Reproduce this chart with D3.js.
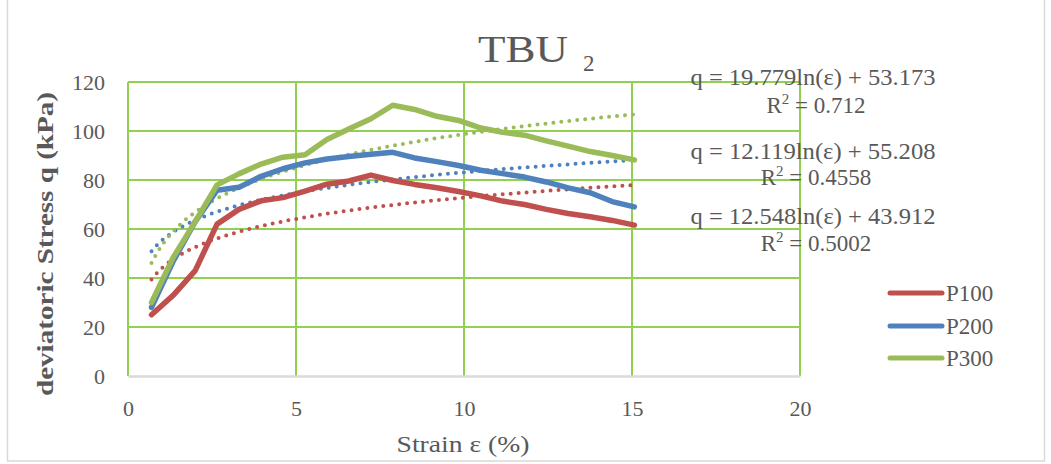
<!DOCTYPE html>
<html>
<head>
<meta charset="utf-8">
<script src="https://cdn.jsdelivr.net/npm/d3@7/dist/d3.min.js"></script>
<style>
  html, body { margin: 0; padding: 0; background: #fff; }
  svg { display: block; }
  text { font-family: "Liberation Serif", "DejaVu Serif", serif; }
</style>
</head>
<body>
<svg id="chart" width="1051" height="464"></svg>
<script>
// Strain (%) at each reading
const strain = [0.7, 1.35, 2.0, 2.65, 3.3, 3.96, 4.61, 5.27, 5.92, 6.57, 7.23, 7.88,
                8.53, 9.19, 9.84, 10.5, 11.15, 11.8, 12.45, 13.1, 13.76, 14.41, 15.07];
// Deviatoric stress q (kPa) per confining pressure
const p100 = [25, 33, 43, 62, 68, 71.5, 72.8, 75.5, 78.3, 79.6, 82, 79.8,
              78.2, 76.8, 75.3, 73.5, 71.4, 70, 68, 66.3, 65, 63.5, 61.6];
const p200 = [28, 47, 63, 75.8, 77, 81.5, 84.6, 87, 88.6, 89.6, 90.5, 91.3,
              89, 87.5, 85.9, 84, 82.6, 81.2, 79.2, 76.8, 74.8, 71.2, 69];
const p300 = [30, 48.5, 63, 78, 82.5, 86.5, 89.3, 90.3, 96.5, 100.8, 105, 110.5,
              108.8, 106, 104.3, 101.2, 99.5, 98.3, 96, 93.8, 91.6, 90, 88.2];

const seriesNames = ["P100", "P200", "P300"];
const seriesColors = ["#C0504D", "#4F81BD", "#9BBB59"];

// Logarithmic trend lines q = a ln(ε) + b
const trendA = [12.548, 12.119, 19.779];
const trendB = [43.912, 55.208, 53.173];
const trendR2 = ["0.5002", "0.4558", "0.712"];

const xTicks = [0, 5, 10, 15, 20];
const yTicks = [0, 20, 40, 60, 80, 100, 120];

const svg = d3.select("#chart");
const plotL = 128, plotR = 800, plotT = 82, plotB = 376;
const x = d3.scaleLinear().domain([0, 20]).range([plotL, plotR]);
const y = d3.scaleLinear().domain([0, 120]).range([plotB, plotT]);
const textColor = "#595959";

// outer frame
svg.append("rect").attr("x", 7.5).attr("y", -2).attr("width", 1037).attr("height", 463)
  .attr("fill", "none").attr("stroke", "#d9d9d9").attr("stroke-width", 1.5);

// gridlines
const grid = svg.append("g").attr("stroke", "#92D050").attr("stroke-width", 2);
grid.selectAll("line.h").data(yTicks.filter(d => d > 0)).join("line").attr("class", "h")
  .attr("x1", plotL).attr("x2", plotR).attr("y1", d => y(d)).attr("y2", d => y(d));
grid.selectAll("line.v").data(xTicks).join("line").attr("class", "v")
  .attr("x1", d => x(d)).attr("x2", d => x(d)).attr("y1", plotT).attr("y2", plotB);

// x axis
const xAxis = svg.append("g").attr("transform", `translate(0,${plotB})`)
  .call(d3.axisBottom(x).tickValues(xTicks).tickSize(0).tickPadding(24));
xAxis.select(".domain").attr("stroke", "#d9d9d9").attr("stroke-width", 2.5);
xAxis.selectAll("text").attr("font-size", 22).attr("fill", textColor)
  .attr("font-family", "Liberation Serif, serif");

// y axis
const yAxis = svg.append("g").attr("transform", `translate(${plotL},0)`)
  .call(d3.axisLeft(y).tickValues(yTicks).tickSize(0).tickPadding(23));
yAxis.select(".domain").remove();
yAxis.selectAll("text").attr("font-size", 22).attr("fill", textColor)
  .attr("font-family", "Liberation Serif, serif");

// trend lines
const lineGen = d3.line().x(d => x(d[0])).y(d => y(d[1]));
const xMin = d3.min(strain), xMax = d3.max(strain);
trendA.forEach((a, i) => {
  const pts = d3.range(0, 121).map(k => {
    const e = xMin + (xMax - xMin) * k / 120;
    return [e, a * Math.log(e) + trendB[i]];
  });
  svg.append("path").attr("d", lineGen(pts)).attr("fill", "none")
    .attr("stroke", seriesColors[i]).attr("stroke-width", 4)
    .attr("stroke-linecap", "round").attr("stroke-dasharray", "0 8");
});

// data series
[p100, p200, p300].forEach((vals, i) => {
  svg.append("path").attr("d", lineGen(strain.map((s, k) => [s, vals[k]])))
    .attr("fill", "none").attr("stroke", seriesColors[i]).attr("stroke-width", 5.5)
    .attr("stroke-linejoin", "round").attr("stroke-linecap", "round");
});

// title
svg.append("text").attr("x", 478).attr("y", 62)
  .attr("font-size", 38).attr("fill", textColor)
  .attr("textLength", 90).attr("lengthAdjust", "spacingAndGlyphs").text("TBU");
svg.append("text").attr("x", 583).attr("y", 71)
  .attr("font-size", 23).attr("fill", textColor).text("2");

// axis titles
svg.append("text").attr("transform", "translate(53,244) rotate(-90)")
  .attr("text-anchor", "middle").attr("font-size", 23).attr("font-weight", "bold")
  .attr("fill", textColor).attr("textLength", 304).attr("lengthAdjust", "spacingAndGlyphs")
  .text("deviatoric Stress  q (kPa)");
svg.append("text").attr("x", 463).attr("y", 452).attr("text-anchor", "middle")
  .attr("font-size", 23).attr("fill", textColor)
  .attr("textLength", 133).attr("lengthAdjust", "spacingAndGlyphs")
  .text("Strain ε (%)");

// trend equations
const eqY = [[224, 251], [159, 185], [85, 113]];
trendA.forEach((a, i) => {
  svg.append("text").attr("x", 813).attr("y", eqY[i][0]).attr("text-anchor", "middle")
    .attr("font-size", 23).attr("fill", textColor)
    .attr("textLength", 245).attr("lengthAdjust", "spacingAndGlyphs")
    .text(`q = ${a.toFixed(3)}ln(ε) + ${trendB[i].toFixed(3)}`);
  const r = svg.append("text").attr("x", 816).attr("y", eqY[i][1]).attr("text-anchor", "middle")
    .attr("font-size", 23).attr("fill", textColor);
  r.append("tspan").text("R");
  r.append("tspan").attr("font-size", 15).attr("dy", -9).text("2");
  r.append("tspan").attr("dy", 9).text(` = ${trendR2[i]}`);
});

// legend
const legY = [293, 326, 358];
seriesNames.forEach((n, i) => {
  svg.append("line").attr("x1", 890).attr("x2", 942).attr("y1", legY[i]).attr("y2", legY[i])
    .attr("stroke", seriesColors[i]).attr("stroke-width", 5).attr("stroke-linecap", "round");
  svg.append("text").attr("x", 946).attr("y", legY[i] + 8).attr("font-size", 23)
    .attr("fill", textColor).text(n);
});
</script>
</body>
</html>
